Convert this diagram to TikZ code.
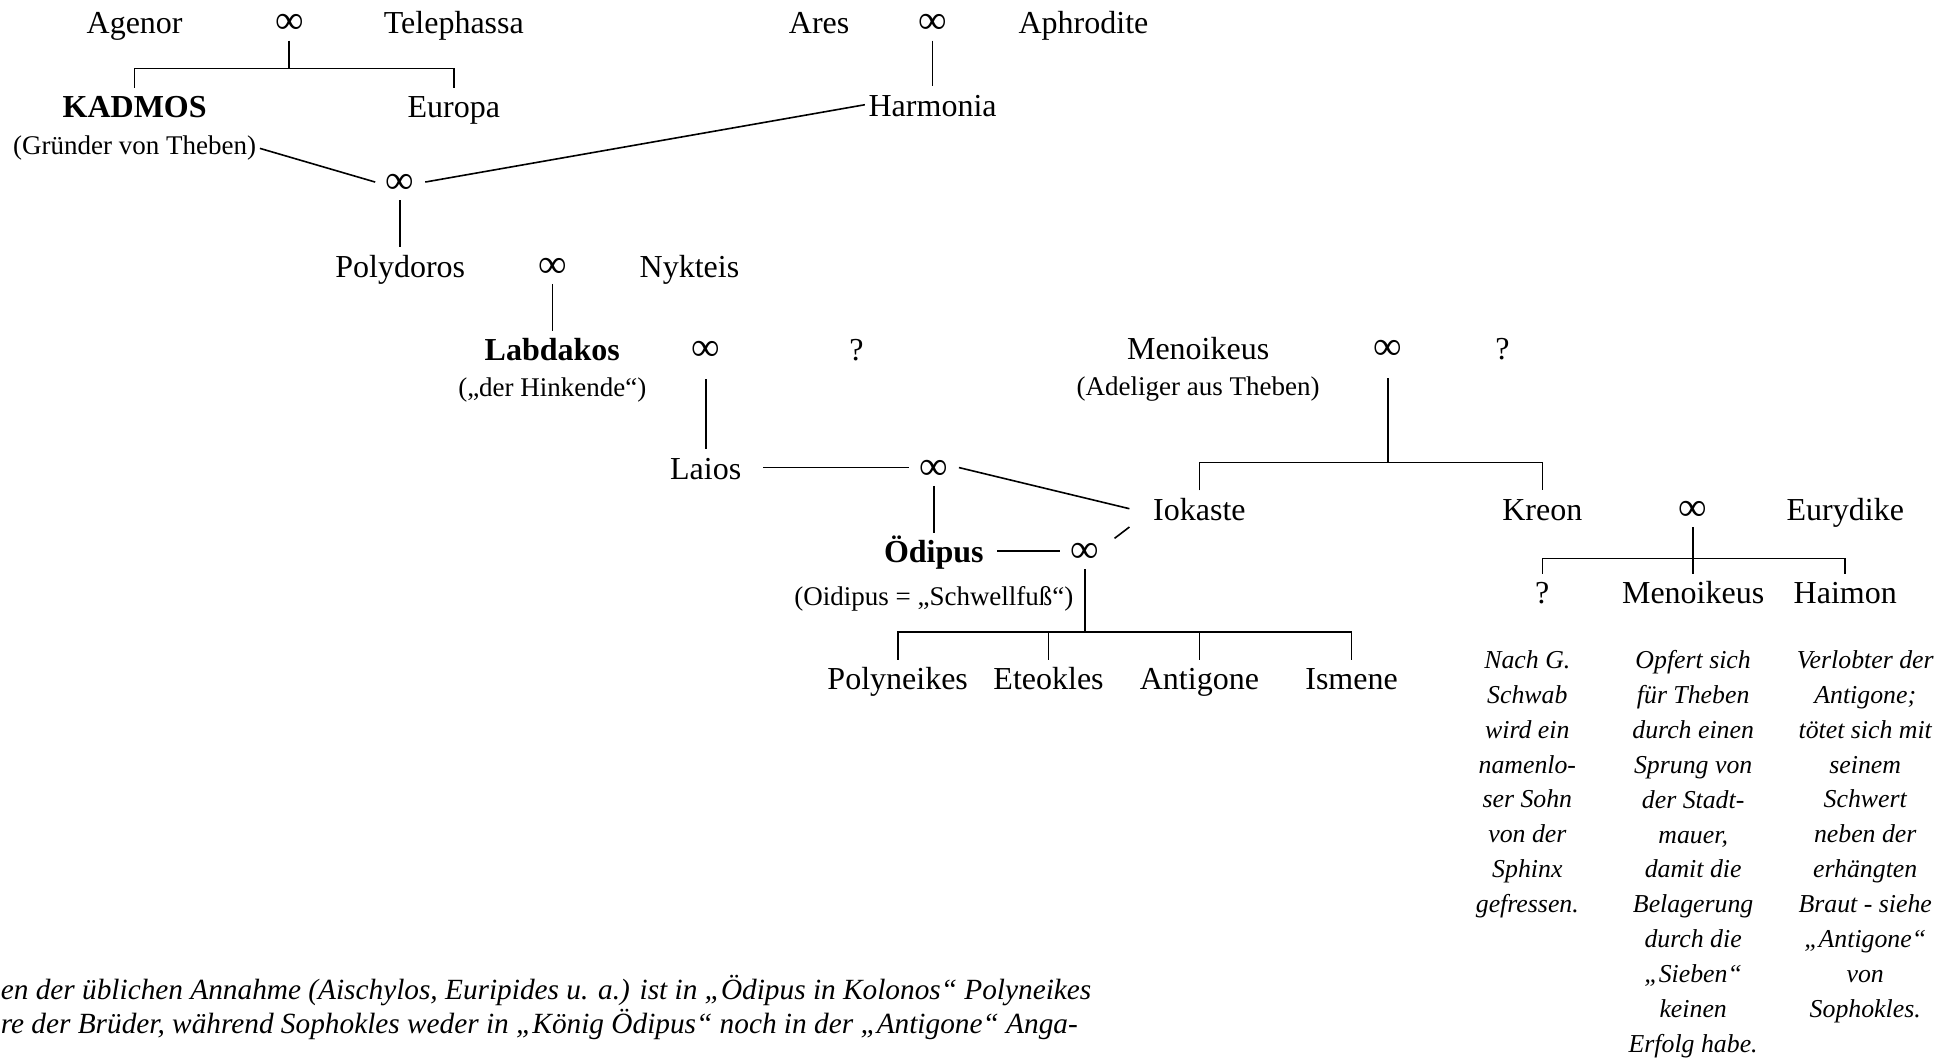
\documentclass[tikz,border=0pt]{standalone}
\usepackage{fontspec}
\setmainfont{Liberation Serif}
\begin{document}
\begin{tikzpicture}[x=0.6234pt, y=-0.6234pt, line width=0.8pt,
                    nameStyle/.style={font=\fontsize{16}{19}\selectfont, text height=13pt, text depth=1.5pt, inner sep=1.5pt},
                    headStyle/.style={nameStyle, font=\fontsize{16}{19}\selectfont\bfseries},
                    subStyle/.style={font=\fontsize{13.5}{16}\selectfont, inner sep=1.5pt},
                    marryStyle/.style={nameStyle, font=\fontsize{20}{24}\selectfont, inner xsep=5pt},
                    noteStyle/.style={font=\fontsize{12.9}{17.45}\selectfont\itshape, align=center, anchor=north, inner sep=0pt},
                    footStyle/.style={font=\fontsize{14.65}{17}\selectfont\itshape, anchor=base west, inner sep=0pt}]
                    \useasboundingbox (0, 0) rectangle (1568, 849);

                    \node[nameStyle]  (agenor)     at ( 108, 18) {Agenor};
                    \node[marryStyle] (m_agenor)   at ( 232, 18) {∞};
                    \node[nameStyle]  (telephassa) at ( 364, 18) {Telephassa};
                    \node[nameStyle]  (ares)       at ( 657, 18) {Ares};
                    \node[marryStyle] (m_ares)     at ( 748, 18) {∞};
                    \node[nameStyle]  (aphrodite)  at ( 869, 18) {Aphrodite};

                    \node[headStyle]  (kadmos)     at ( 108, 85) {KADMOS};
                    \node[subStyle]   (kadmos_S)   at ( 108, 119) {(Gründer von Theben)};
                    \node[nameStyle]  (europa)     at ( 364, 85) {Europa};
                    \node[nameStyle]  (harmonia)   at ( 748, 84) {Harmonia};
                    \node[marryStyle] (m_kadmos)   at ( 321, 146) {∞};

                    \node[nameStyle]  (polydoros)  at ( 321, 213) {Polydoros};
                    \node[marryStyle] (m_polyd)    at ( 443, 213) {∞};
                    \node[nameStyle]  (nykteis)    at ( 553, 213) {Nykteis};

                    \node[headStyle]  (labdakos)   at ( 443, 280) {Labdakos};
                    \node[subStyle]   (labdakos_S) at ( 443, 313) {(„der Hinkende“)};
                    \node[marryStyle] (m_labd)     at ( 566, 280) {∞};
                    \node[nameStyle]  (unknown_0)  at ( 687, 280) {?};

                    \node[nameStyle]  (menoikeus)  at ( 961, 279) {Menoikeus};
                    \node[subStyle]   (menoikeus_S) at ( 961, 312) {(Adeliger aus Theben)};
                    \node[marryStyle] (m_menoi)    at (1113, 279) {∞};
                    \node[nameStyle]  (unknown_1)  at (1205, 279) {?};

                    \node[nameStyle]  (laios)      at ( 566, 375) {Laios};
                    \node[marryStyle] (m_laios)    at ( 749, 375) {∞};
                    \node[nameStyle]  (iokaste)    at ( 962, 408) {Iokaste};
                    \node[nameStyle]  (kreon)      at (1237, 408) {Kreon};
                    \node[marryStyle] (m_kreon)    at (1358, 408) {∞};
                    \node[nameStyle]  (eurydike)   at (1480, 408) {Eurydike};

                    \node[headStyle]  (oedipus)    at ( 749, 442) {Ödipus};
                    \node[subStyle]   (oedipus_S)  at ( 749, 480) {(Oidipus = „Schwellfuß“)};
                    \node[marryStyle] (m_oedipus)  at ( 870, 442) {∞};

                    \node[nameStyle]  (polyneikes) at ( 720, 544) {Polyneikes};
                    \node[nameStyle]  (eteokles)   at ( 841, 544) {Eteokles};
                    \node[nameStyle]  (antigone)   at ( 962, 544) {Antigone};
                    \node[nameStyle]  (ismene)     at (1084, 544) {Ismene};

                    \node[nameStyle]  (unknown_2)  at (1237, 475) {?};
                    \node[nameStyle]  (menoikeus_2) at (1358, 475) {Menoikeus};
                    \node[nameStyle]  (haimon)     at (1480, 475) {Haimon};

                    \node[noteStyle]  (note_0) at (1225, 521) {Nach G.\\Schwab\\wird ein\\namenlo-\\ser Sohn\\von der\\Sphinx\\gefressen.};
                    \node[noteStyle]  (note_1) at (1358, 521) {Opfert sich\\für Theben\\durch einen\\Sprung von\\der Stadt-\\mauer,\\damit die\\Belagerung\\durch die\\„Sieben“\\keinen\\Erfolg habe.};
                    \node[noteStyle]  (note_2) at (1496, 521) {Verlobter der\\Antigone;\\tötet sich mit\\seinem\\Schwert\\neben der\\erhängten\\Braut - siehe\\„Antigone“\\von\\Sophokles.};

                    \node[footStyle]  (foot_0) at (0, 802) {en der üblichen Annahme (Aischylos, Euripides u. a.) ist in „Ödipus in Kolonos“ Polyneikes};
                    \node[footStyle]  (foot_1) at (0, 829) {re der Brüder, während Sophokles weder in „König Ödipus“ noch in der „Antigone“ Anga-};

                    \coordinate (b_agenor)  at (m_agenor |- 0, 55);
                    \coordinate (b_menoi)   at (m_menoi |- 0, 371);
                    \coordinate (b_oedipus) at (m_oedipus |- 0, 507);
                    \coordinate (b_kreon)   at (m_kreon |- 0, 448);

                    \draw (m_agenor.south) -- (b_agenor);
                    \draw (kadmos.north) |- (b_agenor) -| (europa.north);
                    \draw (m_ares.south) -- (harmonia.north);
                    \draw (kadmos_S.east) -- (m_kadmos.west);
                    \draw (harmonia.west) -- (m_kadmos.east);
                    \draw (m_kadmos.south) -- (polydoros.north);
                    \draw (m_polyd.south) -- (labdakos.north);
                    \draw ([yshift=-6pt]m_labd.south) -- (laios.north);
                    \draw[shorten <=9pt] (laios.east) -- (m_laios.west);
                    \draw (m_laios.east) -- ([xshift=-10pt]iokaste.west);
                    \draw (m_laios.south) -- (oedipus.north);
                    \draw[shorten <=5pt] (oedipus.east) -- (m_oedipus.west);
                    \draw[shorten <=3pt] (m_oedipus.20) -- ([xshift=-10pt]iokaste.south west);
                    \draw (m_oedipus.south) -- (b_oedipus);
                    \draw (polyneikes.north) |- (b_oedipus) -| (ismene.north);
                    \draw (eteokles.north) -- (eteokles |- b_oedipus);
                    \draw (antigone.north) -- (antigone |- b_oedipus);
                    \draw ([yshift=-6pt]m_menoi.south) -- (b_menoi);
                    \draw (iokaste.north) |- (b_menoi) -| (kreon.north);
                    \draw (m_kreon.south) -- (menoikeus_2.north);
                    \draw (unknown_2.north) |- (b_kreon) -| (haimon.north);
                \end{tikzpicture}
\end{document}
